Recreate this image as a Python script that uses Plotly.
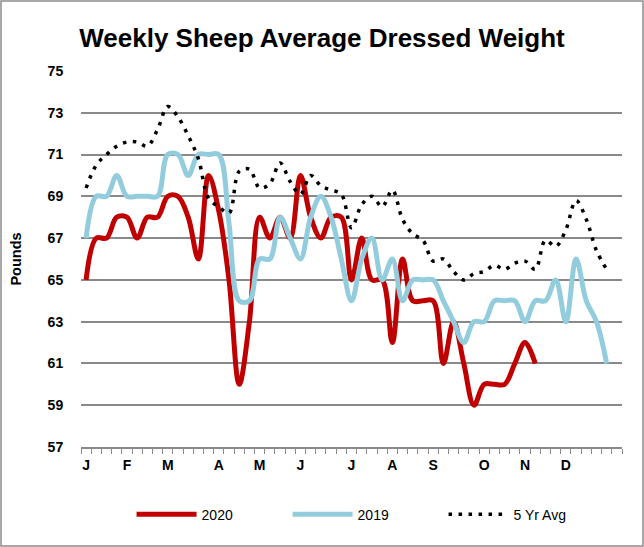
import plotly.graph_objects as go

# ---- data (weekly, 53 week slots) ----
weeks = list(range(1, 54))
month_weeks = [1, 5, 9, 14, 18, 22, 27, 31, 35, 40, 44, 48]
month_labels = ["J", "F", "M", "A", "M", "J", "J", "A", "S", "O", "N", "D"]

y2020 = [65, 67, 67, 68, 68, 67, 68, 68, 69, 69, 68, 66, 70, 68.3, 65, 60, 63,
         68, 67, 68, 67, 70, 68, 67, 68, 68, 65, 67, 65, 65, 62, 66, 64, 64, 64,
         61, 63, 61, 59, 60, 60, 60, 61, 62, 61]

y2019 = [67, 69, 69, 70, 69, 69, 69, 69, 71, 71, 70, 71, 71, 71, 67.7, 64, 64,
         66, 66, 68, 67, 66, 68, 69, 68, 66, 64, 66, 67, 65, 66, 64, 65, 65, 65,
         64, 63, 62, 63, 63, 64, 64, 64, 63, 64, 64, 65, 63, 66, 64, 63, 61]

y5yr = [69.4, 70.5, 71.0, 71.4, 71.6, 71.6, 71.4, 72.2, 73.3, 72.8, 71.9, 70.8,
        68.9, 68.5, 68.2, 70.2, 70.3, 69.4, 69.6, 70.6, 69.7, 69.1, 70.0, 69.5,
        69.3, 69.1, 67.5, 68.6, 69.0, 68.5, 69.3, 67.9, 67.2, 66.9, 65.9, 66.0,
        65.4, 65.0, 65.3, 65.4, 65.7, 65.5, 65.8, 65.9, 65.5, 66.9, 66.6, 67.4,
        68.8, 67.9, 66.4, 65.5]

y_ticks = list(range(57, 76, 2))

FONT = "Arial, Liberation Sans, sans-serif"

fig = go.Figure()
fig.add_trace(go.Scatter(x=weeks[:len(y2020)], y=y2020, name="2020", mode="lines",
                         line=dict(color="#C00000", width=5, shape="spline", smoothing=1)))
fig.add_trace(go.Scatter(x=weeks[:len(y2019)], y=y2019, name="2019", mode="lines",
                         line=dict(color="#93CDDD", width=5, shape="spline", smoothing=1)))
fig.add_trace(go.Scatter(x=weeks[:len(y5yr)], y=y5yr, name="5 Yr Avg", mode="lines",
                         line=dict(color="#000000", width=3.5, dash="3.5px,6.5px",
                                   shape="spline", smoothing=1)))

fig.update_layout(
    width=644, height=547,
    margin=dict(l=81, r=22, t=71, b=100),
    paper_bgcolor="white", plot_bgcolor="white",
    title=dict(text="<b>Weekly Sheep Average Dressed Weight</b>",
               font=dict(family=FONT, size=26, color="#000"),
               x=0.5, xanchor="center", y=0.93, yanchor="middle"),
    showlegend=True,
    legend=dict(orientation="h", x=0.526, xanchor="center", y=-0.18, yanchor="middle",
                font=dict(family=FONT, size=14, color="#000"),
                itemwidth=60,
                entrywidth=81, entrywidthmode="pixels", traceorder="normal"),
    font=dict(family=FONT, color="#000"),
)

fig.update_xaxes(
    range=[0.5, 53.5], tickmode="array", tickvals=month_weeks, ticktext=month_labels,
    ticks="", showgrid=False, showline=True, linecolor="#898989", linewidth=1.5,
    tickfont=dict(family=FONT, size=14, color="#000", weight="bold"),
    ticklabelstandoff=4, automargin=False,
    minor=dict(tickmode="linear", tick0=0.5, dtick=1, ticks="outside", ticklen=5,
               tickcolor="#898989", tickwidth=1, showgrid=False),
    zeroline=False,
)
fig.update_yaxes(
    range=[57, 75], tickmode="array", tickvals=y_ticks, automargin=False,
    showgrid=True, gridcolor="#898989", gridwidth=1.5, zeroline=False,
    showline=False, ticks="outside", ticklen=0, ticklabelstandoff=14,
    tickfont=dict(family=FONT, size=14, color="#000", weight="bold"),
    title=dict(text="<b>Pounds</b>", font=dict(family=FONT, size=14.5, color="#000"), standoff=22),
)

# outer chart border
fig.add_shape(type="rect", xref="paper", yref="paper",
              x0=-80.0/541.0, x1=(643.0-81.0)/541.0, y0=-(546.0-447.0)/376.0, y1=(447.0-1.0)/376.0,
              line=dict(color="#8c8c8c", width=1.5), fillcolor="rgba(0,0,0,0)", layer="below")

fig.write_html("out.html", config={"displayModeBar": False},
               post_script="document.body.style.margin='0px';")
